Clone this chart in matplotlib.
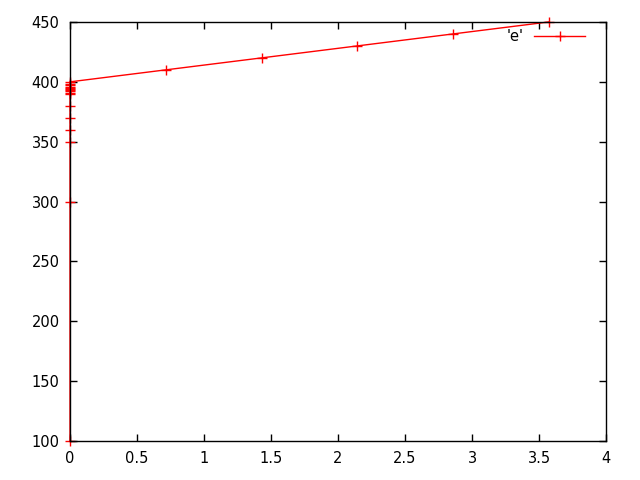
import numpy as np
import matplotlib
matplotlib.use('Agg')
import matplotlib.pyplot as plt

# points recorded at x=0, then the rising run
x_vals = [0, 0, 0, 0, 0, 0, 0, 0, 0, 0, 0, 0, 0, 0, 0, 0,
          0.714, 1.429, 2.143, 2.857, 3.571]
y_vals = [100, 300, 350, 360, 370, 380, 390, 391, 392, 393, 394, 395, 396, 397, 398, 400,
          410, 420, 430, 440, 450]
xticks = [0, 0.5, 1, 1.5, 2, 2.5, 3, 3.5, 4]
yticks = [100, 150, 200, 250, 300, 350, 400, 450]

plt.rcParams['font.family'] = 'DejaVu Sans'
fig = plt.figure(figsize=(6.4, 4.8), dpi=100)
ax = fig.add_axes([0.1094, 0.08125, 0.8375, 0.87295])

ax.plot(x_vals, y_vals, color='red', linewidth=1, marker='+', markersize=6.5,
        markeredgewidth=1, clip_on=False, label="'e'")

ax.set_xlim(0, 4)
ax.set_ylim(100, 450)
ax.set_xticks(xticks)
ax.set_xticklabels(['0', '0.5', '1', '1.5', '2', '2.5', '3', '3.5', '4'])
ax.set_yticks(yticks)
ax.tick_params(direction='in', top=True, right=True, length=5, width=1,
               labelsize=10.5, pad=7.5)
for s in ax.spines.values():
    s.set_linewidth(1)

leg = ax.legend(loc='upper right', bbox_to_anchor=(0.986, 1.014), frameon=False,
                markerfirst=False, numpoints=1, handlelength=3.5,
                fontsize=10.5, handletextpad=0.75)

fig.savefig('out.png', dpi=100)
